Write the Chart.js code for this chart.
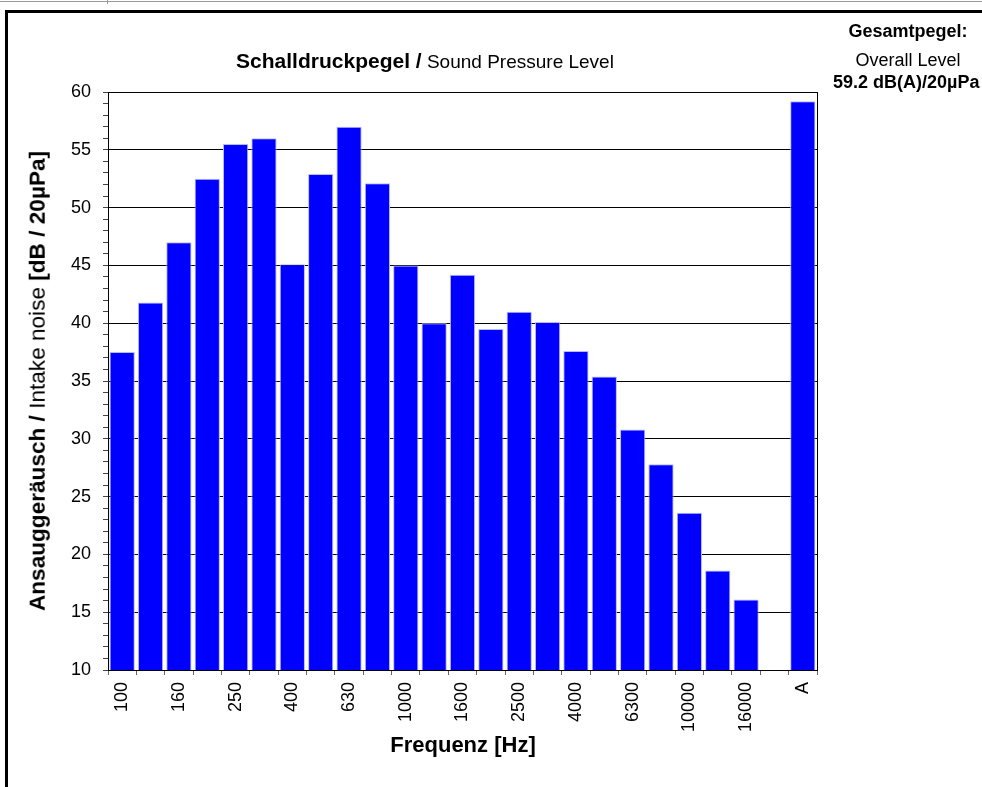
<!DOCTYPE html>
<html>
<head>
<meta charset="utf-8">
<script src="https://cdn.jsdelivr.net/npm/chart.js@4/dist/chart.umd.min.js"></script>
<style>
  html, body { margin: 0; padding: 0; background: #fff; }
  #wrap { position: relative; width: 982px; height: 787px; overflow: hidden; font-family: "Liberation Sans", Arial, sans-serif; color: #000; }
  canvas { position: absolute; left: 0; top: 0; }
  .abs { position: absolute; white-space: nowrap; line-height: 1; }
  #topline { position: absolute; left: 0; top: 1px; width: 982px; height: 1px; background: #9a9a9a; }
  #toptick { position: absolute; left: 107px; top: 0; width: 1px; height: 4px; background: #9a9a9a; }
  #frame { position: absolute; left: 5px; top: 10px; width: 990px; height: 800px; border-top: 3px solid #000; border-left: 3px solid #000; }
</style>
</head>
<body>
<div id="wrap">
  <div id="topline"></div>
  <div id="toptick"></div>
  <div id="frame"></div>
  <canvas id="c" width="982" height="787"></canvas>
  <div class="abs" id="title" style="left:425px; top:50px; transform:translateX(-50%); font-size:19px;"><b style="font-size:21px;">Schalldruckpegel /</b> Sound Pressure Level</div>
  <div class="abs" style="left:908px; top:22px; transform:translateX(-50%); font-size:18px; font-weight:bold;">Gesamtpegel:</div>
  <div class="abs" style="left:908px; top:51px; transform:translateX(-50%); font-size:18px;">Overall Level</div>
  <div class="abs" style="left:833px; top:73px; font-size:18px; font-weight:bold;">59.2 dB(A)/20µPa</div>
  <div class="abs" id="ytitle" style="left:38px; top:381px; transform:translate(-50%,-50%) rotate(-90deg); font-size:22.6px;"><b>Ansauggeräusch /</b> Intake noise <b>[dB / 20µPa]</b></div>
  <div class="abs" style="left:463px; top:734px; transform:translateX(-50%); font-size:22px; font-weight:bold;">Frequenz [Hz]</div>
</div>
<script>
// ---- data ----
const categories = ['100','125','160','200','250','315','400','500','630','800','1000','1250','1600','2000','2500','3150','4000','5000','6300','8000','10000','12500','16000','20000','A'];
const levels = [37.5, 41.8, 47.0, 52.5, 55.5, 56.0, 45.1, 52.9, 57.0, 52.1, 45.0, 40.0, 44.2, 39.5, 41.0, 40.1, 37.6, 35.4, 30.8, 27.8, 23.6, 18.6, 16.1, null, 59.2];
const shownLabels = ['100','160','250','400','630','1000','1600','2500','4000','6300','10000','16000','A'];
const yMin = 10;
const yMax = 60;
const yMajorStep = 5;

const frame = {
  id: 'frame',
  afterDatasetsDraw(chart) {
    const a = chart.chartArea, ctx = chart.ctx;
    ctx.save();
    ctx.strokeStyle = '#000';
    ctx.lineWidth = 1;
    ctx.beginPath();
    ctx.moveTo(Math.round(a.right) + 0.5, a.top);
    ctx.lineTo(Math.round(a.right) + 0.5, a.bottom);
    ctx.stroke();
    ctx.restore();
  }
};

new Chart(document.getElementById('c'), {
  type: 'bar',
  data: {
    labels: categories,
    datasets: [{
      data: levels,
      backgroundColor: '#0000FF',
      borderColor: '#B8B8FF',
      borderWidth: 1,
      barPercentage: 0.89,
      categoryPercentage: 1.0
    }]
  },
  options: {
    responsive: false,
    animation: false,
    events: [],
    layout: { padding: { top: 92, right: 165, bottom: 0, left: 0 } },
    plugins: { legend: { display: false }, tooltip: { enabled: false }, title: { display: false } },
    scales: {
      x: {
        afterFit(s) { s.height = 117; },
        grid: { display: true, offset: true, drawOnChartArea: false, color: '#666', tickLength: 5, lineWidth: 1 },
        border: { display: true, color: '#000', width: 1 },
        ticks: {
          autoSkip: false, maxRotation: 90, minRotation: 90, padding: 7,
          color: '#000', font: { family: 'Liberation Sans', size: 18 },
          callback(v, i) { const l = categories[i]; return shownLabels.includes(l) ? l : ''; }
        }
      },
      y: {
        min: yMin, max: yMax,
        afterFit(s) { s.width = 108; },
        grid: {
          color(ctx) { return (ctx.tick && ctx.tick.value % yMajorStep === 0) ? '#000' : 'rgba(0,0,0,0)'; },
          tickColor: '#444', tickLength: 5, lineWidth: 1
        },
        border: { display: true, color: '#000', width: 1 },
        ticks: {
          stepSize: 1, autoSkip: false, padding: 12, color: '#000',
          font: { family: 'Liberation Sans', size: 18 },
          callback(v) { return v % yMajorStep === 0 ? String(v) : ''; }
        }
      }
    }
  },
  plugins: [frame]
});
</script>
</body>
</html>
